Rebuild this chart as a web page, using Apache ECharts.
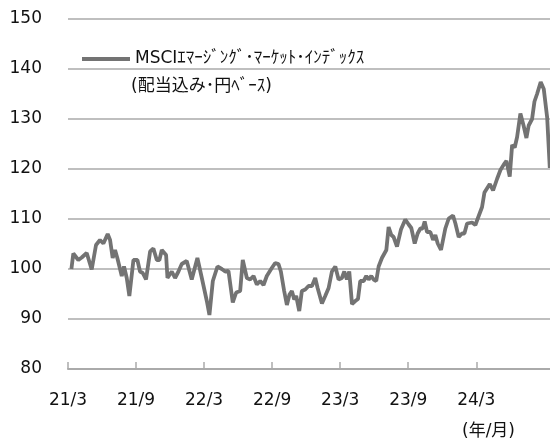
<!DOCTYPE html>
<html>
<head>
<meta charset="utf-8">
<script src="https://cdn.jsdelivr.net/npm/echarts@6/dist/echarts.min.js"></script>
<style>
  html, body { margin: 0; padding: 0; background: #fff; }
  #chart { width: 550px; height: 439px; }
</style>
</head>
<body>
<div id="chart"></div>
<script>
// 経過月数（21/3 = 0）
const months = [
  0.3, 0.47, 0.91, 1.21, 1.65, 2.09, 2.47, 2.82, 3.12, 3.5, 3.71, 3.94, 4.15, 4.35, 4.74, 4.94,
  5.18, 5.41, 5.77, 6.12, 6.35, 6.59, 6.88, 7.24, 7.53, 7.83, 8.06, 8.27, 8.65, 8.77, 9.15, 9.44,
  9.74, 10.03, 10.47, 10.91, 11.41, 11.8, 12.24, 12.47, 12.77, 13.18, 13.56, 13.86, 14.15, 14.53,
  14.83, 15.18, 15.41, 15.77, 16.06, 16.36, 16.65, 16.95, 17.24, 17.53, 17.97, 18.27, 18.56, 18.77,
  19.06, 19.3, 19.53, 19.74, 19.95, 20.12, 20.39, 20.62, 20.92, 21.21, 21.51, 21.8, 22.01, 22.39,
  22.68, 22.98, 23.27, 23.57, 23.86, 24.15, 24.36, 24.59, 24.8, 25.04, 25.33, 25.57, 25.77, 26.07,
  26.3, 26.51, 26.74, 26.95, 27.18, 27.39, 27.68, 28.07, 28.27, 28.51, 28.71, 29.01, 29.36, 29.74,
  30.04, 30.27, 30.57, 30.83, 31.07, 31.27, 31.45, 31.66, 31.95, 32.19, 32.39, 32.6, 32.89, 33.27,
  33.57, 33.95, 34.16, 34.45, 34.74, 34.95, 35.19, 35.63, 35.92, 36.13, 36.51, 36.72, 37.19, 37.48,
  37.83, 38.13, 38.43, 38.66, 38.95, 39.16, 39.39, 39.6, 39.89, 40.18, 40.42, 40.62, 40.92, 41.13,
  41.36, 41.68, 41.95, 42.25, 42.48
];
const values = [
  100.0, 103.1, 101.8, 102.3, 103.2, 99.9, 104.8, 105.8, 105.1, 107.0, 105.8, 102.2, 103.8, 102.2, 98.6, 100.5,
  98.2, 94.6, 101.8, 101.8, 99.5, 99.2, 97.9, 103.5, 104.1, 101.8, 101.8, 103.8, 102.8, 98.2, 99.5, 98.2,
  99.5, 101.0, 101.6, 97.9, 102.2, 98.2, 93.6, 90.8, 97.6, 100.5, 100.0, 99.5, 99.6, 93.3,
  95.3, 95.6, 101.8, 98.2, 97.9, 98.6, 96.9, 97.6, 96.8, 98.6, 100.2, 101.2, 101.0, 99.5,
  95.6, 92.8, 94.9, 95.6, 93.9, 94.6, 91.6, 95.6, 95.9, 96.6, 96.6, 98.2, 96.2, 93.1,
  94.6, 96.2, 99.5, 100.5, 97.9, 98.2, 99.5, 97.9, 99.5, 93.0, 93.6, 94.0, 97.6, 97.6,
  98.6, 97.9, 98.6, 97.9, 97.6, 100.5, 102.2, 103.8, 108.4, 106.8, 106.4, 104.5, 107.9, 109.9,
  108.9, 108.2, 105.1, 107.1, 108.1, 108.1, 109.5, 107.4, 107.4, 105.8, 106.8, 105.1, 103.8, 108.1,
  110.1, 110.7, 109.1, 106.4, 107.1, 107.1, 109.1, 109.3, 108.8, 110.1, 112.4, 115.3, 117.0, 115.7,
  118.0, 119.8, 120.9, 121.6, 118.5, 124.8, 124.3, 126.4, 131.1, 128.6, 126.2, 128.7, 130.0, 133.5,
  135.0, 137.4, 136.0, 130.3, 120.2
];
const tickMonths = [0, 6, 12, 18, 24, 30, 36];
const seriesName = 'MSCIｴﾏｰｼﾞﾝｸﾞ･ﾏｰｹｯﾄ･ｲﾝﾃﾞｯｸｽ';
const seriesNote = '(配当込み･円ﾍﾞｰｽ)';
const unitLabel = '(年/月)';

const chart = echarts.init(document.getElementById('chart'));

const monthLabel = (m) => {
  const yy = 21 + Math.floor((2 + m) / 12);
  const mm = ((2 + m) % 12) + 1;
  return yy + '/' + mm;
};

const font = "'DejaVu Sans', 'Noto Sans CJK JP', sans-serif";
const lineColor = '#737373';

const option = {
  animation: false,
  grid: { left: 68, right: 0, top: 19, bottom: 70 },
  legend: {
    left: 77,
    top: 44,
    itemWidth: 48,
    itemHeight: 4,
    data: [{ name: seriesName, icon: 'rect' }],
    itemStyle: { color: lineColor },
    textStyle: { fontFamily: font, fontSize: 17, color: '#111', lineHeight: 20 }
  },
  graphic: [
    {
      type: 'text',
      left: 131,
      top: 78,
      style: { text: seriesNote, font: '17px ' + font, fill: '#111' }
    },
    {
      type: 'text',
      right: 35,
      top: 423,
      style: { text: unitLabel, font: '17px ' + font, fill: '#111' }
    }
  ],
  xAxis: {
    type: 'value',
    min: 0,
    max: 42.5,
    interval: 6,
    axisLine: { show: true, lineStyle: { color: '#aaaaaa', width: 2 } },
    axisTick: {
      show: true,
      inside: true,
      length: 7,
      customValues: tickMonths,
      lineStyle: { color: '#aaaaaa', width: 1.5 }
    },
    axisLabel: {
      customValues: tickMonths,
      formatter: (v) => monthLabel(v),
      margin: 23,
      fontFamily: font,
      fontSize: 17,
      color: '#111'
    },
    splitLine: { show: false }
  },
  yAxis: {
    type: 'value',
    min: 80,
    max: 150,
    interval: 10,
    axisLine: { show: false },
    axisTick: { show: false },
    axisLabel: { margin: 26, fontFamily: font, fontSize: 17, color: '#111' },
    splitLine: { show: true, lineStyle: { color: '#aaaaaa', width: 1.5 } }
  },
  series: [
    {
      name: seriesName,
      type: 'line',
      symbol: 'none',
      data: months.map((m, i) => [m, values[i]]),
      lineStyle: { color: lineColor, width: 3.8 },
      itemStyle: { color: lineColor }
    }
  ]
};

chart.setOption(option);
</script>
</body>
</html>
